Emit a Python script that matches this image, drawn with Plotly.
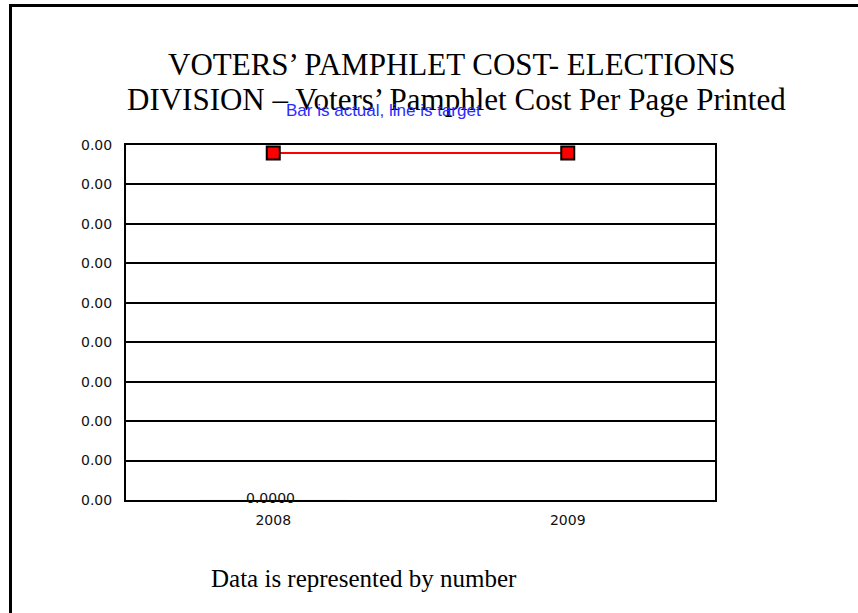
import plotly.graph_objects as go

years = ["2008", "2009"]
actual = [0.0, None]
target = [0.0044, 0.0044]
y_max = 0.0045
y_step = 0.0005

fig = go.Figure()
fig.add_trace(go.Bar(x=years, y=actual, marker=dict(color="#3366cc"), showlegend=False))
fig.add_trace(go.Scatter(
    x=years, y=target, mode="lines+markers",
    line=dict(color="#ff0000", width=2),
    marker=dict(symbol="square", size=13, color="#ff0000", line=dict(color="black", width=2)),
    showlegend=False, cliponaxis=False))

for i, v in enumerate(actual):
    if v is not None:
        fig.add_annotation(x=i, y=v, text=f"{v:.4f}", showarrow=False, yanchor="middle",
                           xshift=-3, yshift=2, font=dict(family="DejaVu Sans", size=14, color="#111"))

fig.add_annotation(xref="paper", yref="paper", x=(452 - 126) / 589, y=1 + (145 - 64) / 355,
                   text="VOTERS’ PAMPHLET COST- ELECTIONS", showarrow=False, yanchor="middle",
                   font=dict(family="Liberation Serif", size=31, color="black"))
fig.add_annotation(xref="paper", yref="paper", x=(456 - 126) / 589, y=1 + (145 - 100) / 355,
                   text="DIVISION – Voters’ Pamphlet Cost Per Page Printed", showarrow=False, yanchor="middle",
                   font=dict(family="Liberation Serif", size=31, color="black"))
fig.add_annotation(xref="paper", yref="paper", x=(383 - 126) / 589, y=1 + (145 - 111) / 355,
                   text="Bar is actual, line is target", showarrow=False, yanchor="middle",
                   font=dict(family="Liberation Sans", size=17, color="#2b2bff"))
fig.add_annotation(xref="paper", yref="paper", x=(364 - 126) / 589, y=-(578 - 500) / 355,
                   text="Data is represented by number", showarrow=False, yanchor="middle",
                   font=dict(family="Liberation Serif", size=25, color="black"))

# slide border (top and left)
fig.add_shape(type="line", xref="paper", yref="paper", x0=(9 - 126) / 589, x1=(858 - 126) / 589,
              y0=1 + (145 - 5.5) / 355, y1=1 + (145 - 5.5) / 355, line=dict(color="black", width=3))
fig.add_shape(type="line", xref="paper", yref="paper", x0=(10.5 - 126) / 589, x1=(10.5 - 126) / 589,
              y0=1 + (145 - 4) / 355, y1=-(613 - 500) / 355, line=dict(color="black", width=3))

fig.update_layout(
    width=858, height=613,
    margin=dict(l=126, r=143, t=145, b=113),
    paper_bgcolor="white", plot_bgcolor="white",
    bargap=0.5,
    xaxis=dict(type="category", range=[-0.5, 1.5], showgrid=False, showline=True, linecolor="black",
               linewidth=2, mirror=True, ticks="", ticklabelstandoff=6,
               tickfont=dict(family="DejaVu Sans", size=14, color="#111"), zeroline=False),
    yaxis=dict(range=[0, y_max], dtick=y_step, tick0=0, tickformat=".2f", showgrid=True, gridcolor="black",
               gridwidth=2, showline=True, linecolor="black", linewidth=2, mirror=True, ticks="",
               ticklabelstandoff=9, zeroline=False,
               tickfont=dict(family="DejaVu Sans", size=14, color="#111")),
)

fig.write_html("out.html")
